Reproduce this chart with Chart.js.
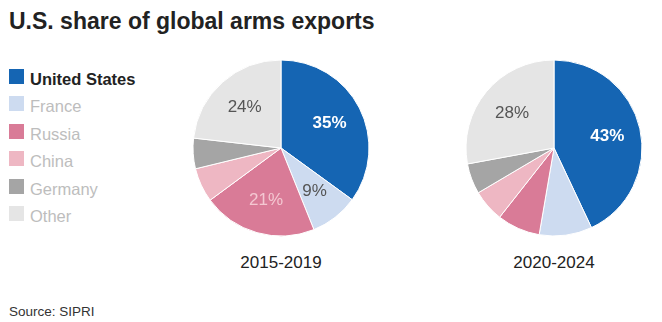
<!DOCTYPE html>
<html>
<head>
<meta charset="utf-8">
<script src="https://cdn.jsdelivr.net/npm/chart.js@4.4.1/dist/chart.umd.min.js"></script>
<style>
  body { margin: 0; background: #fff; font-family: 'Liberation Sans', Arial, sans-serif; }
  #wrap { position: relative; width: 662px; height: 322px; overflow: hidden; }
  h1 { position: absolute; left: 9px; top: 8px; margin: 0; font-size: 23px; font-weight: bold; color: #222; }
  .leg { position: absolute; left: 9px; height: 15px; }
  .leg span.sw { position: absolute; left: 0; top: 0; width: 15px; height: 15px; }
  .leg span.tx { position: absolute; left: 21px; top: 0px; font-size: 16.5px; line-height: 20px; white-space: nowrap; color: #bdbdbd; }
  .leg.on span.tx { color: #222; font-weight: bold; }
  canvas { position: absolute; }
  .period { position: absolute; width: 160px; text-align: center; font-size: 17px; color: #222; top: 253px; }
  #source { position: absolute; left: 9px; top: 304px; font-size: 13.5px; color: #333; }
</style>
</head>
<body>
<div id="wrap">
  <h1>U.S. share of global arms exports</h1>
  <div id="legend"></div>
  <canvas id="pie1" width="180" height="180" style="left:191px;top:58px;width:180px;height:180px"></canvas>
  <canvas id="pie2" width="180" height="180" style="left:464px;top:58px;width:180px;height:180px"></canvas>
  <div class="period" style="left:201px">2015-2019</div>
  <div class="period" style="left:474px">2020-2024</div>
  <div id="source">Source: SIPRI</div>
</div>
<script>
// data
const countries = ['United States', 'France', 'Russia', 'China', 'Germany', 'Other'];
const colors = ['#1565b3', '#cddbf0', '#d97b97', '#eeb7c3', '#a5a5a5', '#e5e5e5'];
const share2015 = [35, 8.9, 21, 6.3, 5.6, 23.2];
const share2020 = [43, 9.7, 7.9, 5.9, 5.6, 27.9];
const labels2015 = ['35%', '9%', '21%', '', '', '24%'];
const labels2020 = ['43%', '', '', '', '', '28%'];
const labelColors = ['#ffffff', '#555555', '#f4c8d2', '', '', '#555555'];

// Legend
const legend = document.getElementById('legend');
countries.forEach((name, i) => {
  const row = document.createElement('div');
  row.className = 'leg' + (i === 0 ? ' on' : '');
  row.style.top = (69 + i * 27.4) + 'px';
  row.innerHTML = `<span class="sw" style="background:${colors[i]}"></span><span class="tx">${name}</span>`;
  legend.appendChild(row);
});

// Draw slice labels inside the pie
const sliceLabels = {
  id: 'sliceLabels',
  afterDatasetsDraw(chart, args, opts) {
    const ctx = chart.ctx;
    const meta = chart.getDatasetMeta(0);
    meta.data.forEach((arc, i) => {
      const text = opts.texts[i];
      if (!text) return;
      const p = arc.getProps(['x', 'y', 'startAngle', 'endAngle', 'outerRadius']);
      const mid = (p.startAngle + p.endAngle) / 2;
      const r = p.outerRadius * 0.62;
      ctx.save();
      ctx.font = (i === 0 ? 'bold ' : '') + '17px "Liberation Sans", Arial, sans-serif';
      ctx.fillStyle = labelColors[i];
      ctx.textAlign = 'center';
      ctx.textBaseline = 'middle';
      ctx.fillText(text, p.x + Math.cos(mid) * r, p.y + Math.sin(mid) * r);
      ctx.restore();
    });
  }
};

function makePie(id, values, texts) {
  const ctx = document.getElementById(id).getContext('2d');
  new Chart(ctx, {
    type: 'pie',
    data: {
      labels: countries,
      datasets: [{
        data: values,
        backgroundColor: colors,
        borderColor: '#ffffff',
        borderWidth: 1,
      }],
    },
    options: {
      responsive: false,
      animation: false,
      radius: 88,
      layout: { padding: 0 },
      plugins: {
        legend: { display: false },
        tooltip: { enabled: false },
        sliceLabels: { texts: texts },
      },
    },
    plugins: [sliceLabels],
  });
}

makePie('pie1', share2015, labels2015);
makePie('pie2', share2020, labels2020);
</script>
</body>
</html>
